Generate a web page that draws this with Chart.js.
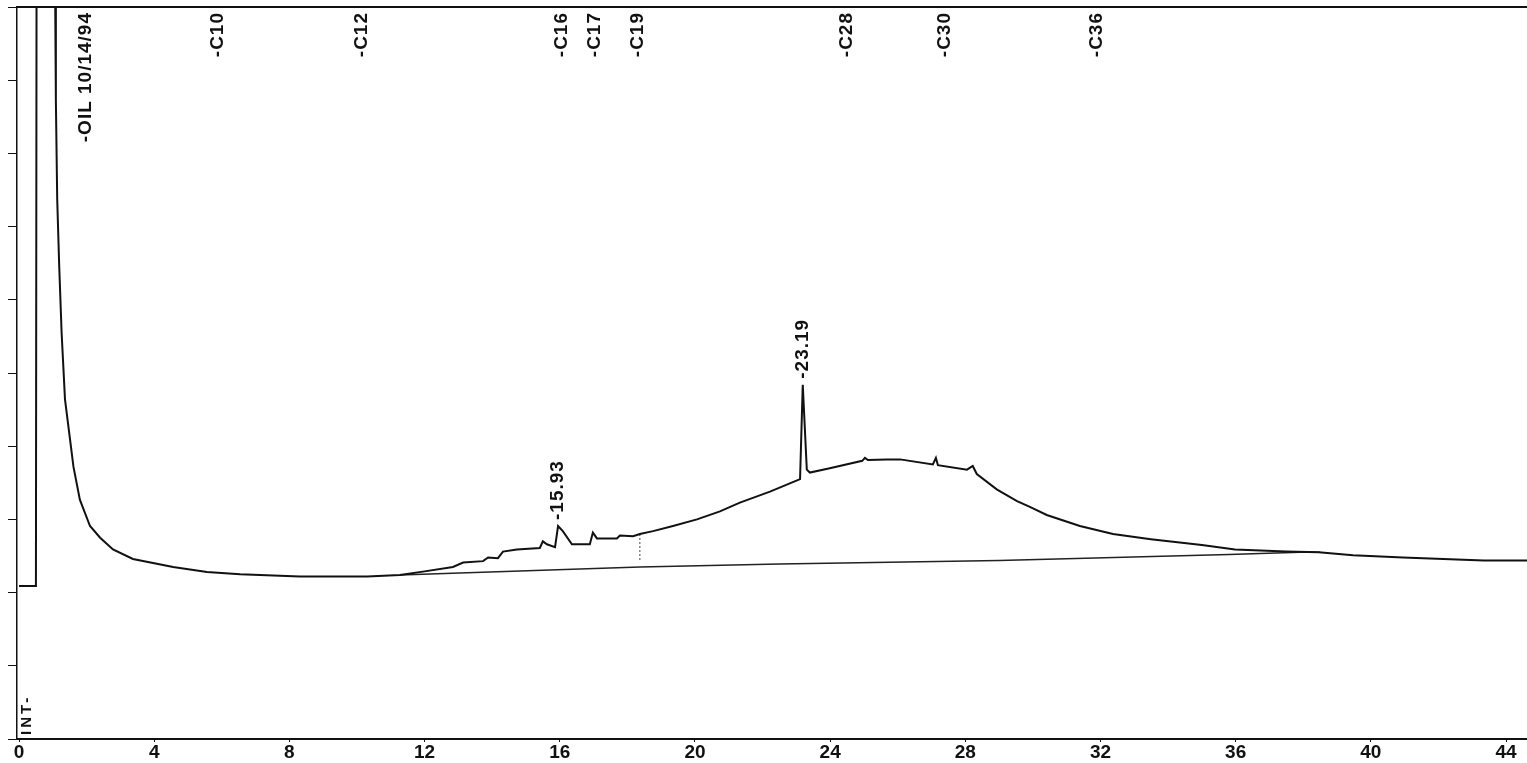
<!DOCTYPE html>
<html>
<head>
<meta charset="utf-8">
<script src="https://cdn.jsdelivr.net/npm/chart.js@4"></script>
<style>
  html, body { margin: 0; padding: 0; background: #fff; }
  #wrap { width: 1527px; height: 763px; }
</style>
</head>
<body>
<div id="wrap"><canvas id="chrom" width="1527" height="763"></canvas></div>
<script>
// retention time (min) / detector signal
const traceTime = [
  0, 0.5, 0.52, 1.04, 1.07, 1.09, 1.13, 1.19, 1.26, 1.36, 1.51, 1.61, 1.80, 2.10, 2.40,
  2.78, 3.37, 4.56, 5.56, 6.54, 8.31, 10.3, 11.27, 12.0, 12.84, 13.14, 13.73, 13.88,
  14.17, 14.32, 14.73, 15.41, 15.50, 15.62, 15.86, 15.95, 16.09, 16.36, 16.89, 16.98,
  17.10, 17.69, 17.78, 18.17, 18.37, 18.76, 19.35, 20.06, 20.74, 21.33, 22.22, 23.11,
  23.19, 23.31, 23.40, 23.99, 24.95, 25.03, 25.12, 25.68, 26.07, 27.04, 27.13, 27.19,
  28.05, 28.22, 28.34, 28.93, 29.53, 29.91, 30.41, 31.39, 32.37, 33.49, 35.0, 35.98,
  37.49, 38.46, 39.47, 40.95, 43.34, 44.7
];
const traceSignal = [
  2.09, 2.09, 11, 11, 10.1, 8.73, 7.37, 6.45, 5.55, 4.64, 4.09, 3.72, 3.27, 2.91, 2.75,
  2.59, 2.46, 2.35, 2.28, 2.25, 2.22, 2.22, 2.24, 2.29, 2.35, 2.41, 2.43, 2.48,
  2.47, 2.56, 2.59, 2.61, 2.70, 2.66, 2.62, 2.91, 2.84, 2.66, 2.66, 2.82,
  2.74, 2.74, 2.78, 2.77, 2.80, 2.84, 2.91, 3.00, 3.11, 3.23, 3.38, 3.55,
  4.84, 3.68, 3.64, 3.70, 3.80, 3.84, 3.81, 3.82, 3.82, 3.75, 3.84, 3.74,
  3.68, 3.73, 3.62, 3.41, 3.25, 3.17, 3.06, 2.91, 2.80, 2.73, 2.65, 2.59,
  2.56, 2.55, 2.51, 2.48, 2.44, 2.44
];

// integration baseline
const baselineTime = [11.27, 18.37, 22.5, 29.0, 35.8, 37.9, 38.5];
const baselineSignal = [2.24, 2.35, 2.39, 2.44, 2.52, 2.55, 2.55];

// drop line at 18.37
const dropTime = [18.37, 18.37];
const dropSignal = [2.80, 2.42];

const compoundNames = ['OIL 10/14/94', 'C10', 'C12', 'C16', 'C17', 'C19', 'C28', 'C30', 'C36'];
const compoundTimes = [1.98, 5.88, 10.15, 16.07, 17.04, 18.31, 24.5, 27.4, 31.9];

const peakLabels = ['15.93', '23.19'];
const peakTimes = [15.95, 23.19];
const peakSignals = [2.91, 4.84];

const xTicks = [0, 4, 8, 12, 16, 20, 24, 28, 32, 36, 40, 44];

const FONT = '"Liberation Sans", Arial, sans-serif';

function toPoints(xs, ys) {
  return xs.map((t, i) => ({ x: t, y: ys[i] }));
}

function drawVertical(ctx, text, px, py, align) {
  ctx.save();
  ctx.translate(px, py);
  ctx.rotate(-Math.PI / 2);
  ctx.textAlign = align;
  ctx.fillText(text, 0, 0);
  ctx.restore();
}

const labelsPlugin = {
  id: 'peakLabels',
  afterDatasetsDraw(chart) {
    const { ctx, chartArea, scales } = chart;
    const x = scales.x, y = scales.y;
    ctx.save();
    ctx.fillStyle = '#111';
    ctx.textBaseline = 'middle';
    ctx.font = 'bold 19px ' + FONT;
    ctx.letterSpacing = '1px';
    compoundTimes.forEach((t, i) => {
      drawVertical(ctx, '-' + compoundNames[i], x.getPixelForValue(t), chartArea.top + 5, 'right');
    });
    peakTimes.forEach((t, i) => {
      drawVertical(ctx, '-' + peakLabels[i], x.getPixelForValue(t), y.getPixelForValue(peakSignals[i]) - 6, 'left');
    });
    ctx.font = 'bold 15px ' + FONT;
    ctx.letterSpacing = '3px';
    drawVertical(ctx, 'INT-', chartArea.left + 10, chartArea.bottom - 4, 'left');
    ctx.restore();
  }
};

new Chart(document.getElementById('chrom'), {
  type: 'line',
  data: {
    datasets: [
      {
        label: 'signal',
        data: toPoints(traceTime, traceSignal),
        borderColor: '#111',
        borderWidth: 2,
        pointRadius: 0,
        tension: 0
      },
      {
        label: 'baseline',
        data: toPoints(baselineTime, baselineSignal),
        borderColor: '#222',
        borderWidth: 1.5,
        pointRadius: 0,
        tension: 0
      },
      {
        label: 'drop',
        data: toPoints(dropTime, dropSignal),
        borderColor: '#444',
        borderWidth: 1,
        borderDash: [2, 2],
        pointRadius: 0
      }
    ]
  },
  options: {
    responsive: false,
    animation: false,
    devicePixelRatio: 1,
    layout: { padding: { left: 8, top: 7, right: 0, bottom: 0 } },
    plugins: {
      legend: { display: false },
      tooltip: { enabled: false }
    },
    scales: {
      x: {
        type: 'linear',
        position: 'bottom',
        min: -0.06,
        max: 44.62,
        afterBuildTicks: (axis) => { axis.ticks = xTicks.map((v) => ({ value: v })); },
        ticks: {
          color: '#111',
          padding: 1,
          maxRotation: 0,
          autoSkip: false,
          font: { family: FONT, size: 19, weight: 'bold', lineHeight: 1 }
        },
        grid: { drawOnChartArea: false, drawTicks: true, tickLength: 3, color: '#111' },
        border: { display: true, color: '#111', width: 2 }
      },
      xTop: {
        type: 'linear',
        position: 'top',
        min: -0.06,
        max: 44.62,
        ticks: { display: false },
        grid: { drawOnChartArea: false, drawTicks: false },
        border: { display: true, color: '#111', width: 2 }
      },
      y: {
        type: 'linear',
        min: 0,
        max: 10,
        ticks: { display: false, stepSize: 1 },
        grid: { drawOnChartArea: false, drawTicks: true, tickLength: 9, color: '#111' },
        border: { display: true, color: '#111', width: 1.5 }
      }
    }
  },
  plugins: [labelsPlugin]
});
</script>
</body>
</html>
